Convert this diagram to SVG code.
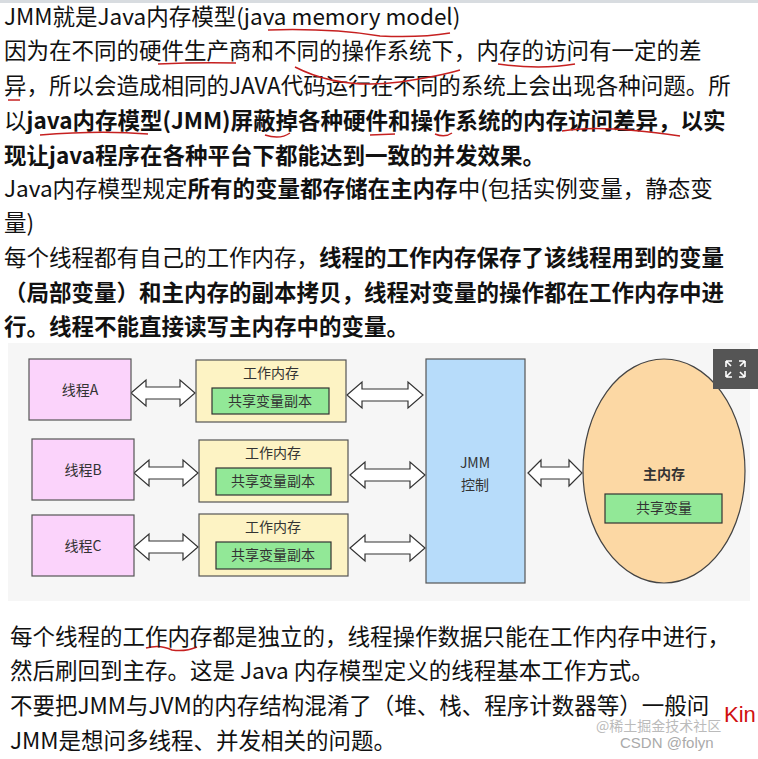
<svg xmlns="http://www.w3.org/2000/svg" width="758" height="759" viewBox="0 0 758 759">
<style>
.t{font-family:"Noto Sans CJK SC","Noto Sans",sans-serif;font-size:22.5px;fill:#111}
.b{font-weight:bold}
.bt{font-family:"Noto Sans CJK SC","Noto Sans",sans-serif;font-size:22.5px;fill:#111}
.d{font-family:"Noto Sans CJK SC",sans-serif;font-size:14px;fill:#333;text-anchor:middle}
.th{fill:#fbd3fb;stroke:#555;stroke-width:1.2}
.wm{fill:#fdf3c4;stroke:#555;stroke-width:1.2}
.gr{fill:#92e897;stroke:#333;stroke-width:1.2}
.ar{fill:#fff;stroke:#333;stroke-width:1.2}
.ul{fill:none;stroke:#c62020;stroke-width:1.5}
</style>
<rect width="758" height="759" fill="#fff"/>
<rect width="758" height="3" fill="#d8dce0"/>
<text class="t" x="4" y="25">JMM就是Java内存模型(java memory model)</text>
<text class="t" x="4" y="59">因为在不同的硬件生产商和不同的操作系统下，内存的访问有一定的差</text>
<text class="t" x="4" y="94">异，所以会造成相同的JAVA代码运行在不同的系统上会出现各种问题。所</text>
<text class="t" x="4" y="129">以<tspan class="b">java内存模型(JMM)屏蔽掉各种硬件和操作系统的内存访问差异，以实</tspan></text>
<text class="t b" x="4" y="164">现让java程序在各种平台下都能达到一致的并发效果。</text>
<text class="t" x="4" y="197">Java内存模型规定<tspan class="b">所有的变量都存储在主内存</tspan>中(包括实例变量，静态变</text>
<text class="t" x="4" y="231">量)</text>
<text class="t" x="4" y="266">每个线程都有自己的工作内存，<tspan class="b">线程的工作内存保存了该线程用到的变量</tspan></text>
<text class="t b" x="4" y="301">（局部变量）和主内存的副本拷贝，线程对变量的操作都在工作内存中进</text>
<text class="t b" x="4" y="335">行。线程不能直接读写主内存中的变量。</text>
<g id="underlines">
<path class="ul" d="M268 30 Q330 28 380 36 Q420 38 450 33"/>
<path class="ul" d="M158 64 Q200 62 236 63"/>
<path class="ul" d="M295 67 Q340 90 400 82 Q440 76 460 70"/>
<path class="ul" d="M498 64 Q540 70 575 64"/>
<path class="ul" d="M8 100 L20 100"/>
<path class="ul" d="M40 135 Q100 130 148 134"/>
<path class="ul" d="M265 135 Q280 140 290 133"/>
<path class="ul" d="M370 135 L395 134"/>
<path class="ul" d="M435 134 Q445 138 452 133"/>
<path class="ul" d="M562 131 Q600 124 680 136"/>
<path class="ul" d="M146 648 Q160 644 172 650 Q185 652 197 647"/>
</g>
<rect x="8" y="343" width="742" height="258" fill="#f6f6f6"/>
<g id="connectors">
<path class="ar" d="M131 393 L146 380 L146 387 L180 387 L180 380 L195 393 L180 406 L180 399 L146 399 L146 406 Z"/>
<path class="ar" d="M347 395 L362 382 L362 389 L408 389 L408 382 L423 395 L408 408 L408 401 L362 401 L362 408 Z"/>
<path class="ar" d="M134 473 L149 460 L149 467 L183 467 L183 460 L198 473 L183 486 L183 479 L149 479 L149 486 Z"/>
<path class="ar" d="M350 475 L365 462 L365 469 L410 469 L410 462 L425 475 L410 488 L410 481 L365 481 L365 488 Z"/>
<path class="ar" d="M134 547 L149 534 L149 541 L183 541 L183 534 L198 547 L183 560 L183 553 L149 553 L149 560 Z"/>
<path class="ar" d="M350 548 L365 535 L365 542 L410 542 L410 535 L425 548 L410 561 L410 554 L365 554 L365 561 Z"/>
<path class="ar" d="M528 473 L541 460 L541 467 L569 467 L569 460 L582 473 L569 486 L569 479 L541 479 L541 486 Z"/>
</g>
<g id="threadA"><rect class="th" x="29" y="359" width="102" height="61"/><text class="d" x="80" y="395">线程A</text></g>
<g id="threadB"><rect class="th" x="32" y="439" width="102" height="61"/><text class="d" x="83" y="475">线程B</text></g>
<g id="threadC"><rect class="th" x="32" y="515" width="102" height="61"/><text class="d" x="83" y="551">线程C</text></g>
<g id="workA"><rect class="wm" x="196" y="360" width="150" height="62"/><text class="d" x="271" y="378">工作内存</text><rect class="gr" x="212" y="388" width="117" height="26"/><text class="d" x="270" y="406" font-size="13">共享变量副本</text></g>
<g id="workB"><rect class="wm" x="199" y="440" width="149" height="62"/><text class="d" x="273" y="458">工作内存</text><rect class="gr" x="216" y="468" width="115" height="27"/><text class="d" x="273" y="486" font-size="13">共享变量副本</text></g>
<g id="workC"><rect class="wm" x="199" y="514" width="149" height="62"/><text class="d" x="273" y="532">工作内存</text><rect class="gr" x="216" y="542" width="115" height="27"/><text class="d" x="273" y="560" font-size="13">共享变量副本</text></g>
<g id="jmm"><rect x="426" y="359" width="99" height="224" fill="#b7dcfa" stroke="#555" stroke-width="1.2"/><text class="d" x="475" y="468" font-size="16" fill="#445">JMM</text><text class="d" x="475" y="490" font-size="16" fill="#445">控制</text></g>
<g id="main"><ellipse cx="664" cy="471" rx="81" ry="112" fill="#fcd8a4" stroke="#444" stroke-width="1.2"/><text class="d" x="664" y="479" font-size="16" font-weight="bold" fill="#222">主内存</text><rect class="gr" x="605" y="494" width="117" height="29"/><text class="d" x="664" y="513" font-size="13">共享变量</text></g>
<g id="icon"><rect x="713" y="349" width="45" height="40" fill="#555"/><path d="M726 361 l6 0 M726 361 l0 6 M726 361 l5 5 M745 361 l-6 0 M745 361 l0 6 M745 361 l-5 5 M726 377 l6 0 M726 377 l0 -6 M726 377 l5 -5 M745 377 l-6 0 M745 377 l0 -6 M745 377 l-5 -5" stroke="#fff" stroke-width="1.6" fill="none"/></g>
<text class="bt" x="10" y="645">每个线程的工作内存都是独立的，线程操作数据只能在工作内存中进行，</text>
<text class="bt" x="10" y="679">然后刷回到主存。这是 Java 内存模型定义的线程基本工作方式。</text>
<text class="bt" x="10" y="714">不要把JMM与JVM的内存结构混淆了（堆、栈、程序计数器等）一般问</text>
<text class="bt" x="10" y="749">JMM是想问多线程、并发相关的问题。</text>
<text x="596" y="731" font-family="Noto Sans CJK SC,sans-serif" font-size="14" fill="#bbb">@稀土掘金技术社区</text>
<text x="620" y="748" font-family="Liberation Sans,sans-serif" font-size="15" fill="#aaa">CSDN @folyn</text>
<text x="724" y="722" font-family="Liberation Sans,sans-serif" font-size="22" fill="#d01010">Kin</text>
</svg>
